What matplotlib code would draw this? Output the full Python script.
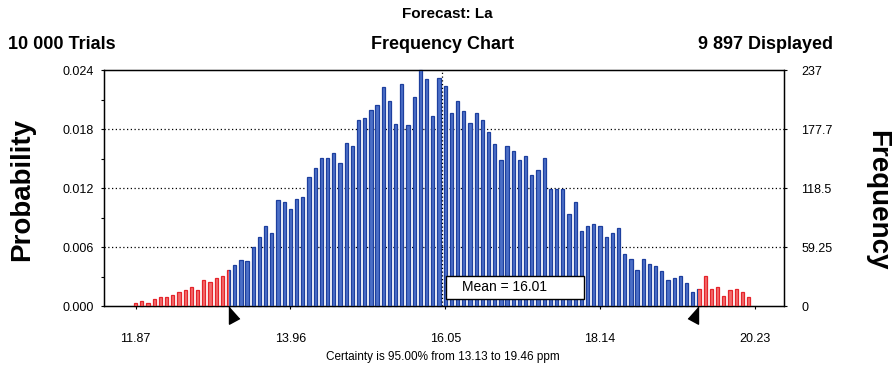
import numpy as np
import matplotlib
matplotlib.use('Agg')
import matplotlib.pyplot as plt
from matplotlib.patches import Rectangle

# forecast histogram: 100 bins between the range ends, counts per bin
x_min = 11.87
x_max = 20.23
counts = [3, 5, 3, 7, 9, 9, 11, 14, 16, 19, 16, 26, 24, 28, 30,
          36, 41, 46, 45, 59, 69, 80, 73, 106, 104, 97, 107,
          109, 130, 139, 149, 149, 154, 144, 164, 161, 187, 189, 197, 202, 220,
          206, 183, 223, 182, 210, 237, 228, 191, 229, 221, 194, 206, 196, 184,
          194, 187, 175,
          163, 147, 161, 156, 147, 151, 132, 137, 149, 118, 118, 118, 92, 104,
          75, 80, 82, 80, 69, 73, 78, 52, 47, 36, 47, 42, 40, 35, 26, 28,
          30, 23, 14, 17,
          30, 17, 19, 10, 16, 17, 14, 9]
freq_max = 237
mean_value = 16.01
certainty_lo = 13.13
certainty_hi = 19.46
x_ticks = [11.87, 13.96, 16.05, 18.14, 20.23]
freq_ticks = [0, 59.25, 118.5, 177.75, 237]
freq_labels = ['0', '59.25', '118.5', '177.7', '237']
prob_labels = ['0.000', '0.006', '0.012', '0.018', '0.024']

plt.rcParams['font.family'] = ['Liberation Sans', 'DejaVu Sans']


def clipped_bars(ax, xs, w, face, edge, x0, x1):
    bars = ax.bar(xs, counts, width=w, color=face, edgecolor=edge,
                  linewidth=0.9, zorder=3)
    clip = Rectangle((x0, -10), x1 - x0, 1000, transform=ax.transData)
    for b in bars:
        b.set_clip_path(clip)


def main():
    fig = plt.figure(figsize=(8.94, 3.71), dpi=100)
    ax = fig.add_axes([0.1163, 0.1752, 0.7607, 0.6361])

    width = (x_max - x_min) / len(counts)
    xs = x_min + width * np.arange(len(counts))
    bar_w = width * 0.52

    # blue inside the certainty range, red in both tails
    clipped_bars(ax, xs, bar_w, '#4c70c8', '#1d3f9e', certainty_lo, certainty_hi)
    clipped_bars(ax, xs, bar_w, '#f36c6c', '#e4242b', 0, certainty_lo)
    clipped_bars(ax, xs, bar_w, '#f36c6c', '#e4242b', certainty_hi, 40)

    # dotted grid and the mean marker
    for y in freq_ticks[1:-1]:
        ax.axhline(y, color='black', lw=0.9, ls=(0, (1, 2)), zorder=1)
    ax.axvline(mean_value, color='black', lw=0.9, ls=(0, (1, 2)), zorder=4)

    ax.set_xlim(11.442, 20.626)
    ax.set_ylim(0, freq_max)
    ax.set_xticks(x_ticks)
    ax.set_xticklabels(['%.2f' % v for v in x_ticks], fontsize=9)
    ax.set_yticks(freq_ticks)
    ax.set_yticklabels(prob_labels, fontsize=9)
    ax.set_yticks([(a + b) / 2 for a, b in zip(freq_ticks[:-1], freq_ticks[1:])],
                  minor=True)
    ax.tick_params(axis='x', direction='out', length=2.5, pad=17, width=0.8)
    ax.tick_params(axis='y', which='both', direction='out', length=2.5,
                   pad=5, width=0.8)
    for s in ax.spines.values():
        s.set_linewidth(1.0)

    ax2 = ax.twinx()
    ax2.set_ylim(0, freq_max)
    ax2.set_yticks(freq_ticks)
    ax2.set_yticklabels(freq_labels, fontsize=9)
    ax2.tick_params(axis='y', direction='out', length=2.5, pad=10, width=0.8)

    # certainty range triangles under the axis
    tri_r = [(0, 1), (0, -1), (1.2, -0.35)]
    tri_l = [(0, 1), (0, -1), (-1.2, -0.35)]
    ax.plot([certainty_lo], [-9], marker=tri_r, ms=15, color='black',
            clip_on=False, zorder=5)
    ax.plot([certainty_hi], [-9], marker=tri_l, ms=15, color='black',
            clip_on=False, zorder=5)

    # mean box
    ax.add_patch(Rectangle((0.5025, 0.03), 0.203, 0.097, transform=ax.transAxes,
                           facecolor='white', edgecolor='black', lw=1.0,
                           zorder=6))
    ax.text(0.5265, 0.0785, 'Mean = %.2f' % mean_value, transform=ax.transAxes,
            fontsize=10, ha='left', va='center', zorder=7)

    head = dict(fontsize=13, fontweight='bold')
    fig.text(0.5, 0.962, 'Forecast: La', ha='center', va='center',
             fontsize=11, fontweight='bold')
    fig.text(0.009, 0.879, '10 000 Trials', ha='left', va='center', **head)
    fig.text(0.4955, 0.879, 'Frequency Chart', ha='center', va='center', **head)
    fig.text(0.932, 0.879, '9 897 Displayed', ha='right', va='center', **head)
    fig.text(0.0246, 0.488, 'Probability', rotation=90, ha='center',
             va='center', fontsize=20, fontweight='bold')
    fig.text(0.981, 0.461, 'Frequency', rotation=-90, ha='center',
             va='center', fontsize=20, fontweight='bold')
    fig.text(0.4955, 0.0377, 'Certainty is 95.00% from 13.13 to 19.46 ppm',
             ha='center', va='center', fontsize=8.5)

    plt.savefig('out.png', dpi=100)


if __name__ == "__main__":
    main()
